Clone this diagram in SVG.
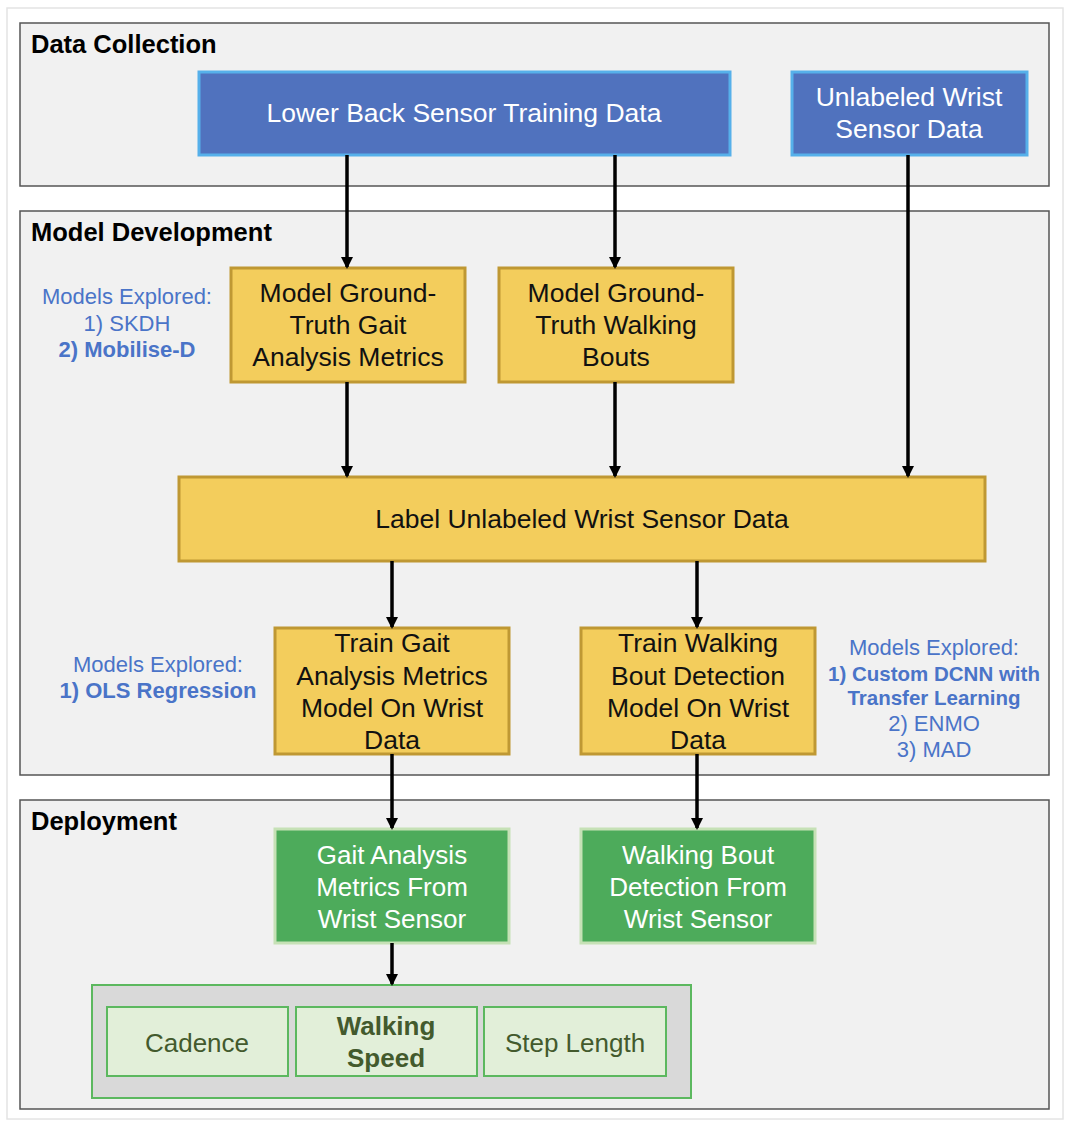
<svg xmlns="http://www.w3.org/2000/svg" width="1070" height="1126" viewBox="0 0 1070 1126">
<style>
text{font-family:"Liberation Sans",Arial,sans-serif}
.panel{fill:#f1f1f1;stroke:#555;stroke-width:1.5}
.title{font-size:25.5px;font-weight:bold;fill:#000}
.blue rect{fill:#5072be;stroke:#56b0ea;stroke-width:3}
.blue text{fill:#fff;font-size:26.5px;text-anchor:middle}
.yel rect{fill:#f3cd5c;stroke:#bf9833;stroke-width:3}
.yel text{fill:#111;font-size:26.5px;text-anchor:middle}
.grn rect{fill:#4dab5b;stroke:#c6e1b6;stroke-width:3}
.grn text{fill:#fff;font-size:26px;text-anchor:middle}
.met rect{fill:#e2efd9;stroke:#5cb85f;stroke-width:2}
.met text{fill:#435a2d;font-size:26px;text-anchor:middle}
.note{fill:#4a74c8;font-size:22px;text-anchor:middle}
.b{font-weight:bold}
.sm{font-size:20.5px}
.conn line{stroke:#000;stroke-width:3.5;marker-end:url(#ah)}
</style>
<defs>
<marker id="ah" markerWidth="12" markerHeight="12" refX="10" refY="6" orient="auto" markerUnits="userSpaceOnUse" viewBox="0 0 12 12">
<path d="M0,0 L12,6 L0,12 Z" fill="#000"/>
</marker>
</defs>
<rect x="0" y="0" width="1070" height="1126" fill="#fff"/>
<rect x="7" y="8" width="1056" height="1111" fill="#fff" stroke="#e4e4e4" stroke-width="1.5"/>

<g id="panel-data-collection">
<rect class="panel" x="20" y="23" width="1029" height="163"/>
<text class="title" x="31" y="53">Data Collection</text>
</g>
<g id="panel-model-development">
<rect class="panel" x="20" y="211" width="1029" height="564"/>
<text class="title" x="31" y="241">Model Development</text>
</g>
<g id="panel-deployment">
<rect class="panel" x="20" y="800" width="1029" height="309"/>
<text class="title" x="31" y="830">Deployment</text>
</g>

<g id="lower-back" class="blue">
<rect x="199" y="72" width="531" height="83"/>
<text x="464" y="122">Lower Back Sensor Training Data</text>
</g>
<g id="unlabeled-wrist" class="blue">
<rect x="792" y="72" width="235" height="83"/>
<text x="909" y="106">Unlabeled Wrist</text>
<text x="909" y="138">Sensor Data</text>
</g>

<g id="gt-gait" class="yel">
<rect x="231" y="268" width="234" height="114"/>
<text x="348" y="302">Model Ground-</text>
<text x="348" y="334">Truth Gait</text>
<text x="348" y="366">Analysis Metrics</text>
</g>
<g id="gt-walk" class="yel">
<rect x="499" y="268" width="234" height="114"/>
<text x="616" y="302">Model Ground-</text>
<text x="616" y="334">Truth Walking</text>
<text x="616" y="366">Bouts</text>
</g>
<g id="label-wrist" class="yel">
<rect x="179" y="477" width="806" height="84"/>
<text x="582" y="528">Label Unlabeled Wrist Sensor Data</text>
</g>
<g id="train-gait" class="yel">
<rect x="275" y="628" width="234" height="126"/>
<text x="392" y="652">Train Gait</text>
<text x="392" y="685">Analysis Metrics</text>
<text x="392" y="717">Model On Wrist</text>
<text x="392" y="749">Data</text>
</g>
<g id="train-walk" class="yel">
<rect x="581" y="628" width="234" height="126"/>
<text x="698" y="652">Train Walking</text>
<text x="698" y="685">Bout Detection</text>
<text x="698" y="717">Model On Wrist</text>
<text x="698" y="749">Data</text>
</g>

<g id="deploy-gait" class="grn">
<rect x="275" y="829" width="234" height="114"/>
<text x="392" y="864">Gait Analysis</text>
<text x="392" y="896">Metrics From</text>
<text x="392" y="928">Wrist Sensor</text>
</g>
<g id="deploy-walk" class="grn">
<rect x="581" y="829" width="234" height="114"/>
<text x="698" y="864">Walking Bout</text>
<text x="698" y="896">Detection From</text>
<text x="698" y="928">Wrist Sensor</text>
</g>

<g id="metrics-container">
<rect x="92" y="985" width="599" height="113" fill="#d9d9d9" stroke="#5cb85f" stroke-width="2"/>
</g>
<g id="cadence" class="met">
<rect x="107" y="1007" width="181" height="69"/>
<text x="197" y="1052">Cadence</text>
</g>
<g id="walking-speed" class="met">
<rect x="296" y="1007" width="181" height="69"/>
<text class="b" x="386" y="1035">Walking</text>
<text class="b" x="386" y="1067">Speed</text>
</g>
<g id="step-length" class="met">
<rect x="484" y="1007" width="182" height="69"/>
<text x="575" y="1052">Step Length</text>
</g>

<g id="notes-gt">
<text class="note" x="127" y="304">Models Explored:</text>
<text class="note" x="127" y="331">1) SKDH</text>
<text class="note b" x="127" y="357">2) Mobilise-D</text>
</g>
<g id="notes-gait">
<text class="note" x="158" y="672">Models Explored:</text>
<text class="note b" x="158" y="698">1) OLS Regression</text>
</g>
<g id="notes-walk">
<text class="note" x="934" y="655">Models Explored:</text>
<text class="note b sm" x="934" y="681">1) Custom DCNN with</text>
<text class="note b sm" x="934" y="705">Transfer Learning</text>
<text class="note" x="934" y="731">2) ENMO</text>
<text class="note" x="934" y="757">3) MAD</text>
</g>

<g id="connectors" class="conn">
<line x1="347" y1="155" x2="347" y2="267"/>
<line x1="615" y1="155" x2="615" y2="267"/>
<line x1="908" y1="155" x2="908" y2="476"/>
<line x1="347" y1="382" x2="347" y2="476"/>
<line x1="615" y1="382" x2="615" y2="476"/>
<line x1="392" y1="561" x2="392" y2="627"/>
<line x1="697" y1="561" x2="697" y2="627"/>
<line x1="392" y1="754" x2="392" y2="828"/>
<line x1="697" y1="754" x2="697" y2="828"/>
<line x1="392" y1="943" x2="392" y2="984"/>
</g>
</svg>
